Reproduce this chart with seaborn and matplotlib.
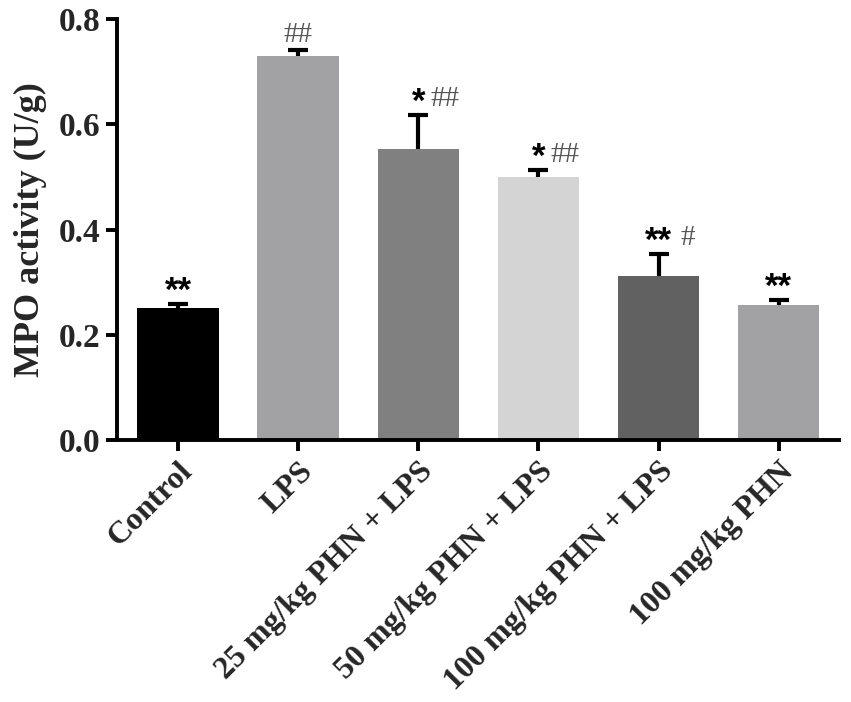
import numpy as np
import pandas as pd
import matplotlib
matplotlib.use("Agg")
import matplotlib.pyplot as plt
import seaborn as sns

# data
groups = ["Control", "LPS", "25 mg/kg PHN + LPS", "50 mg/kg PHN + LPS",
          "100 mg/kg PHN + LPS", "100 mg/kg PHN"]
mpo = [0.251, 0.730, 0.553, 0.500, 0.312, 0.257]
sem = [0.008, 0.011, 0.065, 0.013, 0.042, 0.009]
stars = ["**", "", "*", "*", "**", "**"]
hashes = ["", "##", "##", "##", "#", ""]
bar_colors = ["#000000", "#a2a2a5", "#808080", "#d4d4d4", "#616161", "#a2a2a5"]
yticks = [0.0, 0.2, 0.4, 0.6, 0.8]

sns.set_style("ticks")
plt.rcParams["font.family"] = ["Liberation Serif", "DejaVu Serif"]

df = pd.DataFrame({"group": groups, "mpo": mpo})

fig = plt.figure(figsize=(8.51, 7.02), dpi=100)
ax = fig.add_axes([0.1375, 0.373, 0.848, 0.6])

sns.barplot(data=df, x="group", y="mpo", hue="group", palette=bar_colors,
            legend=False, errorbar=None, width=0.68, linewidth=0,
            saturation=1, ax=ax, zorder=2)

# error bars sit behind the bars so only the upper half shows
xs = np.arange(len(groups))
ax.errorbar(xs, mpo, yerr=sem, fmt="none", ecolor="black", elinewidth=3,
            capsize=7.5, capthick=3, zorder=1)

# significance marks above the error bars
for i, (v, e) in enumerate(zip(mpo, sem)):
    top = v + e
    if stars[i]:
        ax.annotate(stars[i], (i, top), xytext=(0, 9), textcoords="offset points",
                    ha="center", va="center", fontsize=25, fontweight="bold",
                    family="Liberation Sans", color="black")
    if hashes[i]:
        dx = 0 if not stars[i] else (9 if len(stars[i]) == 1 else 16)
        ax.annotate(hashes[i], (i, top), xytext=(dx, 11), textcoords="offset points",
                    ha="center" if dx == 0 else "left", va="center",
                    fontsize=21, color="#555555", family="Liberation Serif")

ax.set_xlim(-0.51, 5.5)
ax.set_ylim(0, 0.8)
ax.set_yticks(yticks)
ax.set_yticklabels([f"{t:.1f}" for t in yticks], fontsize=24, fontweight="bold")
ax.set_xticks(xs)
ax.set_xticklabels(groups, rotation=45, ha="right", rotation_mode="anchor",
                   fontsize=23, fontweight="bold")
ax.set_xlabel("")
ax.set_ylabel("MPO activity (U/g)", fontsize=26, fontweight="bold", labelpad=8)

sns.despine(ax=ax)
for side in ["left", "bottom"]:
    ax.spines[side].set_linewidth(2.8)
    ax.spines[side].set_color("black")
ax.tick_params(axis="both", width=2.8, length=8, color="black", pad=4)

fig.savefig("out.png", dpi=100, facecolor="white")
